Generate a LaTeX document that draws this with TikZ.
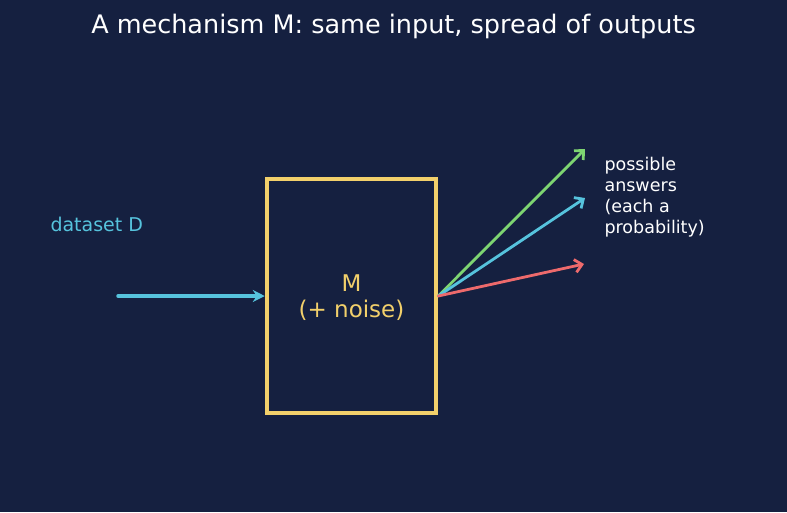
\documentclass[tikz,border=0pt]{standalone}
\usepackage{fontspec}
\setmainfont{DejaVu Sans}
\usetikzlibrary{arrows.meta,positioning}
\definecolor{bgnavy}{HTML}{152040}
\definecolor{mechyel}{HTML}{F2D06B}
\definecolor{datcyan}{HTML}{56C3DD}
\definecolor{outgrn}{HTML}{7ED572}
\definecolor{outred}{HTML}{EE6A6C}
\tikzset{
  mechblk/.style={draw=mechyel,line width=4.5pt,minimum width=169pt,minimum height=234pt,text=mechyel,align=center,font=\fontsize{23}{26}\selectfont},
  inarr/.style={-{Stealth[length=12pt,width=12pt,inset=4pt]},datcyan,line width=3.5pt,line cap=round},
  outarr/.style={-{Straight Barb[length=7pt,width=13pt]},line width=2.8pt,line cap=round},
  lbl/.style={align=left,anchor=west}
}
\begin{document}
\begin{tikzpicture}[x=1pt,y=-1pt]
  \fill[bgnavy] (0,0) rectangle (787,512);
  \useasboundingbox (0,0) rectangle (787,512);
  % Title
  \node[text=white,font=\fontsize{25.5}{30}\selectfont] (title) at (393.5,26) {A mechanism M: same input, spread of outputs};

  % Mechanism box
  \node[mechblk] (mech) at (351.5,296) {};
  \node[text=mechyel,align=center,font=\fontsize{23}{26}\selectfont] (mechtxt) at (351.5,298) {M\\(+ noise)};

  % Input
  \node[lbl,text=datcyan,font=\fontsize{19}{21}\selectfont] (data) at (47,224) {dataset D};
  \coordinate (src) at (118,296);
  \draw[inarr] (src) -- (mech.west);

  % Outputs
  \coordinate (o1) at (585,149);
  \coordinate (o2) at (585,198);
  \coordinate (o3) at (584,264);
  \draw[outarr,outgrn] (mech.east) -- (o1);
  \draw[outarr,datcyan] (mech.east) -- (o2);
  \draw[outarr,outred] (mech.east) -- (o3);
  \node[lbl,text=white,font=\fontsize{17.5}{21}\selectfont] (ans) at (601,197) {possible\\answers\\(each a\\probability)};
\end{tikzpicture}
\end{document}
